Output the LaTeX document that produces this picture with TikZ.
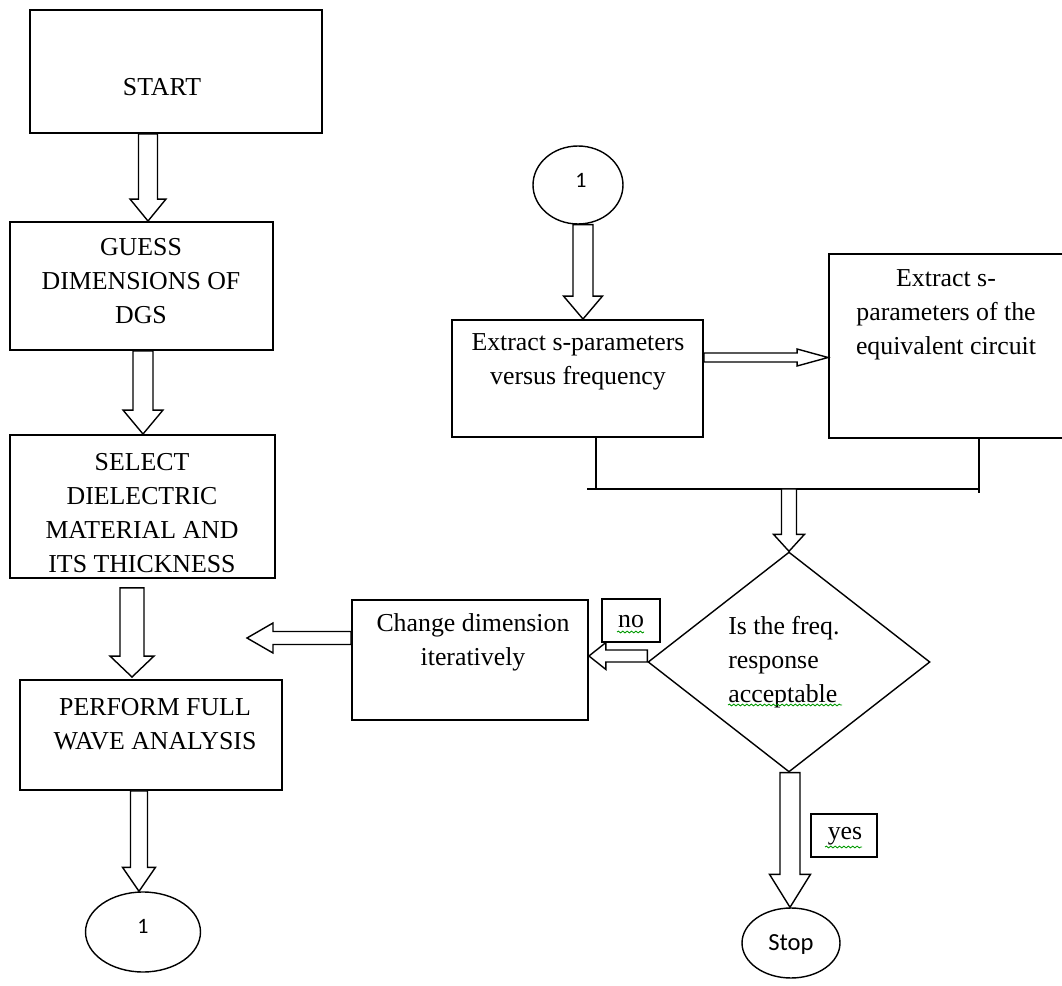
\documentclass[tikz,border=0pt]{standalone}
\usepackage{fontspec}
\setmainfont{Liberation Serif}
\newfontfamily\calib{Carlito}
\usetikzlibrary{shapes,calc,decorations.pathmorphing}

\tikzset{
  box/.style={rectangle, draw, line width=1.1pt, inner sep=0pt},
  oval/.style={ellipse, draw, line width=0.8pt, inner sep=0pt},
  txt/.style={align=center, inner sep=0pt, font=\fontsize{14.7}{19.5}\selectfont},
  fatline/.style={draw, line width=0.8pt, fill=white, line join=miter},
  joinline/.style={draw, line width=0.9pt},
  squiggle/.style={draw=green!60!black, line width=0.5pt, decorate,
    decoration={snake, amplitude=0.5pt, segment length=2.5pt}}
}

% hollow block arrow: start, tip, half shaft, half head, head length
\newcommand{\fatarrow}[5]{%
  \coordinate (fa-b) at ($(#2)!#5!(#1)$);
  \draw[fatline] ($(#1)!#3!90:(#2)$) -- ($(fa-b)!#3!-90:(#1)$) -- ($(fa-b)!#4!-90:(#1)$) -- (#2)
    -- ($(fa-b)!#4!90:(#1)$) -- ($(fa-b)!#3!90:(#1)$) -- ($(#1)!#3!-90:(#2)$) -- cycle;
}

\begin{document}
\begin{tikzpicture}[x=0.02cm, y=-0.02cm]
	\useasboundingbox (0,0) rectangle (1062,986);

	% left column
	\node[box, minimum width=5.84cm, minimum height=2.46cm] (start) at (176,71.5) {};
	\node[box, minimum width=5.26cm, minimum height=2.56cm] (guess) at (141.5,286) {};
	\node[box, minimum width=5.30cm, minimum height=2.86cm] (select) at (142.5,506.5) {};
	\node[box, minimum width=5.24cm, minimum height=2.20cm] (perform) at (151,735) {};
	\node[oval, minimum width=2.30cm, minimum height=1.60cm] (onel) at (143,932) {};

	\node[txt] (startT) at (162,87) {START};
	\node[txt] (guessT) at (141,281) {GUESS\\DIMENSIONS OF\\DGS};
	\node[txt] (selectT) at (142,513) {SELECT\\DIELECTRIC\\MATERIAL AND\\ITS THICKNESS};
	\node[txt] (performT) at (155,724) {PERFORM FULL\\WAVE ANALYSIS};
	\node[font=\calib\fontsize{12.5}{14}\selectfont] (onelT) at (143,926) {1};

	% right part
	\node[oval, minimum width=1.80cm, minimum height=1.56cm] (oner) at (578,185) {};
	\node[box, minimum width=5.02cm, minimum height=2.34cm] (ext) at (577.5,378.5) {};
	\node[box, minimum width=4.82cm, minimum height=3.68cm] (extc) at (949.5,346) {};
	\node[diamond, draw, line width=0.8pt, inner sep=0pt, minimum width=5.64cm, minimum height=4.40cm] (dec) at (789,662) {};
	\node[box, minimum width=4.72cm, minimum height=2.40cm] (change) at (470,660) {};
	\node[box, minimum width=1.16cm, minimum height=0.86cm] (nobox) at (631,620.5) {};
	\node[box, minimum width=1.32cm, minimum height=0.86cm] (yesbox) at (844,835.5) {};
	\node[oval, minimum width=1.96cm, minimum height=1.40cm] (stop) at (791,943) {};

	\node[font=\calib\fontsize{12.5}{14}\selectfont] (onerT) at (581,180) {1};
	\node[txt] (extT) at (578,362) {Extract s-parameters\\versus frequency};
	\node[txt] (extcT) at (946,315) {Extract s-\\parameters of the\\equivalent circuit};
	\node[txt, align=left, anchor=west] (decT) at (728,662) {Is the freq.\\response\\acceptable};
	\node[txt] (changeT) at (473,642) {Change dimension\\iteratively};
	\node[txt] (noT) at (631,622) {no};
	\node[txt] (yesT) at (845,836) {yes};
	\node[font=\calib\fontsize{14}{16}\selectfont] (stopT) at (791,944) {Stop};

	% spelling marks
	\draw[squiggle] (728,705) -- (842,705);
	\draw[squiggle] (617,632) -- (644,632);
	\draw[squiggle] (825,847) -- (862,847);

	% joining lines below the two extract boxes
	\coordinate (jl) at (587,489);
	\coordinate (jr) at (979,489);
	\coordinate (jm) at (789,489);
	\draw[joinline] ($(ext.south)+(18.5,0)$) -- ($(ext.south)+(18.5,52)$);
	\draw[joinline] ($(extc.south)+(29.5,0)$) -- ($(extc.south)+(29.5,54)$);
	\draw[joinline] (jl) -- (jr);

	% block arrows
	\coordinate (a1) at ($(start.south)+(-28,0)$);
	\coordinate (a1e) at (a1 |- guess.north);
	\fatarrow{a1}{a1e}{0.19cm}{0.36cm}{0.44cm}
	\coordinate (a2) at ($(guess.south)+(1.5,0)$);
	\coordinate (a2e) at (a2 |- select.north);
	\fatarrow{a2}{a2e}{0.20cm}{0.40cm}{0.48cm}
	\coordinate (a3) at ($(select.south)+(-10.5,9)$);
	\coordinate (a3e) at ($(a3 |- perform.north)+(0,-2)$);
	\fatarrow{a3}{a3e}{0.24cm}{0.44cm}{0.42cm}
	\coordinate (a4) at ($(perform.south)+(-12,0)$);
	\coordinate (a4e) at (a4 |- onel.north);
	\fatarrow{a4}{a4e}{0.17cm}{0.33cm}{0.48cm}
	\coordinate (a5) at ($(oner.south)+(5,0)$);
	\coordinate (a5e) at (a5 |- ext.north);
	\fatarrow{a5}{a5e}{0.20cm}{0.39cm}{0.46cm}
	\coordinate (a6) at ($(ext.east)+(0,-21)$);
	\coordinate (a6e) at (a6 -| extc.west);
	\fatarrow{a6}{a6e}{0.09cm}{0.17cm}{0.62cm}
	\fatarrow{jm}{dec.north}{0.15cm}{0.31cm}{0.34cm}
	\coordinate (a8) at ($(dec.west)+(0,-6)$);
	\coordinate (a8e) at (a8 -| change.east);
	\fatarrow{a8}{a8e}{0.12cm}{0.27cm}{0.34cm}
	\coordinate (a9) at ($(change.west)+(0,-22)$);
	\coordinate (back) at (247,638);
	\fatarrow{a9}{back}{0.13cm}{0.30cm}{0.52cm}
	\coordinate (a10) at ($(dec.south)+(1,0)$);
	\coordinate (a10e) at (a10 |- stop.north);
	\fatarrow{a10}{a10e}{0.20cm}{0.41cm}{0.66cm}
\end{tikzpicture}
\end{document}
